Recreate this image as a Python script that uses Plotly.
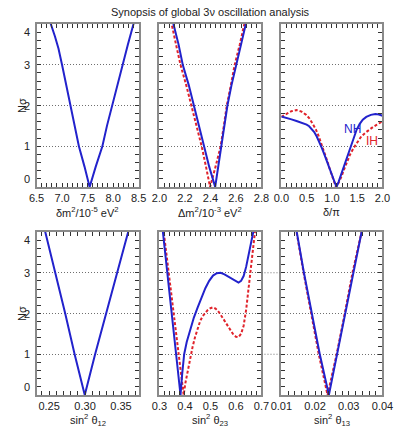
import plotly.graph_objects as go

# ---------------- data ----------------
# top-left: delta m^2 / 1e-5 eV^2
dm2_x = [6.74, 6.78, 6.86, 6.93, 7.00, 7.08, 7.16, 7.25, 7.33, 7.44, 7.54,
         7.66, 7.79, 7.88, 7.98, 8.08, 8.18, 8.29, 8.40, 8.44]
dm2_y = [4.2, 4.0, 3.7, 3.4, 3.0, 2.5, 2.0, 1.5, 1.0, 0.5, 0.0,
         0.5, 1.0, 1.5, 2.0, 2.5, 3.0, 3.5, 4.0, 4.2]

# top-middle: Delta m^2 / 1e-3 eV^2
Dm2_nh_x = [2.10, 2.11, 2.15, 2.183, 2.23, 2.27, 2.31, 2.348, 2.39, 2.437,
            2.46, 2.487, 2.51, 2.533, 2.565, 2.60, 2.64, 2.677, 2.685]
Dm2_nh_y = [4.2, 4.0, 3.5, 3.0, 2.5, 2.0, 1.5, 1.0, 0.5, 0.0,
            0.5, 1.0, 1.5, 2.0, 2.5, 3.0, 3.5, 4.0, 4.2]
Dm2_ih_x = [2.088, 2.096, 2.13, 2.165, 2.21, 2.252, 2.29, 2.331, 2.365, 2.397,
            2.44, 2.48, 2.505, 2.528, 2.56, 2.59, 2.63, 2.67, 2.68]
Dm2_ih_y = [4.2, 4.0, 3.5, 3.0, 2.5, 2.0, 1.5, 1.0, 0.5, 0.0,
            0.5, 1.0, 1.5, 2.0, 2.5, 3.0, 3.5, 4.0, 4.2]

# top-right: delta / pi
dcp_nh_x = [0.0, 0.1, 0.2, 0.3, 0.4, 0.5, 0.55, 0.6, 0.65, 0.7, 0.75, 0.8,
            0.85, 0.9, 0.95, 1.0, 1.05, 1.09, 1.13, 1.18, 1.24, 1.3, 1.36,
            1.42, 1.49, 1.55, 1.61, 1.68, 1.77, 1.86, 1.93, 2.0]
dcp_nh_y = [1.73, 1.70, 1.66, 1.62, 1.58, 1.53, 1.49, 1.43, 1.35, 1.24, 1.11, 0.96,
            0.80, 0.63, 0.46, 0.29, 0.12, 0.0, 0.12, 0.30, 0.51, 0.74, 0.98,
            1.20, 1.41, 1.55, 1.65, 1.72, 1.77, 1.79, 1.78, 1.75]
dcp_ih_x = [0.0, 0.1, 0.2, 0.3, 0.4, 0.49, 0.55, 0.61, 0.68, 0.74, 0.8, 0.86,
            0.91, 0.96, 1.0, 1.04, 1.08, 1.13, 1.18, 1.24, 1.3, 1.36, 1.43,
            1.5, 1.58, 1.66, 1.74, 1.82, 1.89, 2.0]
dcp_ih_y = [1.72, 1.80, 1.86, 1.89, 1.85, 1.77, 1.69, 1.57, 1.42, 1.24, 1.04, 0.84,
            0.63, 0.43, 0.27, 0.11, 0.0, 0.10, 0.23, 0.43, 0.63, 0.80, 0.96,
            1.10, 1.24, 1.33, 1.41, 1.48, 1.53, 1.61]

# bottom-left: sin^2 theta12
s12_x = [0.2433, 0.2447, 0.2584, 0.2724, 0.2855, 0.2996,
         0.314, 0.3295, 0.3447, 0.3601, 0.3615]
s12_y = [4.1, 4.0, 3.0, 2.0, 1.0, 0.0, 1.0, 2.0, 3.0, 4.0, 4.1]

# bottom-middle: sin^2 theta23
s23_nh_x = [0.312, 0.3137, 0.332, 0.348, 0.3654, 0.3827, 0.389, 0.397, 0.407,
            0.42, 0.435, 0.45, 0.465, 0.48, 0.495, 0.51, 0.525, 0.54, 0.555,
            0.57, 0.585, 0.60, 0.61, 0.62, 0.63, 0.64, 0.65, 0.66, 0.668, 0.671]
s23_nh_y = [4.1, 4.0, 3.0, 2.0, 1.0, 0.0, 0.5, 1.0, 1.3,
            1.6, 1.9, 2.15, 2.4, 2.62, 2.8, 2.93, 2.99, 3.0, 2.96,
            2.9, 2.84, 2.78, 2.76, 2.8, 2.92, 3.15, 3.45, 3.75, 4.0, 4.1]
s23_ih_x = [0.315, 0.317, 0.336, 0.356, 0.375, 0.395, 0.402, 0.41, 0.42, 0.43,
            0.44, 0.45, 0.46, 0.47, 0.48, 0.49, 0.50, 0.51, 0.52, 0.53, 0.54,
            0.55, 0.56, 0.57, 0.58, 0.59, 0.60, 0.61, 0.62, 0.63, 0.64, 0.65,
            0.66, 0.67, 0.675, 0.678]
s23_ih_y = [4.1, 4.0, 3.0, 2.0, 1.0, 0.0, 0.3, 0.57, 0.88, 1.18,
            1.43, 1.65, 1.82, 1.94, 2.03, 2.09, 2.13, 2.15, 2.12, 2.06, 1.97,
            1.87, 1.77, 1.66, 1.56, 1.48, 1.43, 1.42, 1.5, 1.7, 2.1, 2.65,
            3.25, 3.8, 4.05, 4.2]

# bottom-right: sin^2 theta13
s13_nh_x = [0.0142, 0.01457, 0.0167, 0.0191, 0.0214, 0.0241,
            0.0265, 0.0289, 0.0312, 0.0338, 0.0341]
s13_nh_y = [4.1, 4.0, 3.0, 2.0, 1.0, 0.0, 1.0, 2.0, 3.0, 4.0, 4.1]
s13_ih_x = [0.0141, 0.0145, 0.0166, 0.0189, 0.0211, 0.0237,
            0.0264, 0.0288, 0.0311, 0.0338, 0.0341]
s13_ih_y = [4.1, 4.0, 3.0, 2.0, 1.0, 0.0, 1.0, 2.0, 3.0, 4.0, 4.1]

y_ticks = [0, 1, 2, 3, 4]
y_tick_pos = [0.2, 1, 2, 3, 3.8]

x_titles = ["δm<sup>2</sup>/10<sup>-5</sup> eV<sup>2</sup>",
            "Δm<sup>2</sup>/10<sup>-3</sup> eV<sup>2</sup>",
            "δ/π",
            "sin<sup>2</sup> θ<sub>12</sub>",
            "sin<sup>2</sup> θ<sub>23</sub>",
            "sin<sup>2</sup> θ<sub>13</sub>"]

# ---------------- layout geometry ----------------
W, H = 402, 430
BLUE = "#2222cc"
RED = "#e0222a"
FONT = "Liberation Sans, Arial, Helvetica, sans-serif"
GRID = "#6f6f6f"
GRIDDASH = "1px,2px"

xpix = [(27, 135), (157, 265), (286, 393)]
ypix = [(24, 187), (232, 395)]

def xd(a, b):
    return [a / W, b / W]

def yd(a, b):
    return [1 - b / H, 1 - a / H]

panels = [
    dict(row=0, col=0, rng=[6.5, 8.5], dt=0.5, mdt=0.1, t0=6.5, fmt=".1f"),
    dict(row=0, col=1, rng=[2.0, 2.8], dt=0.2, mdt=0.04, t0=2.0, fmt=".1f"),
    dict(row=0, col=2, rng=[0.0, 2.0], dt=0.5, mdt=0.1, t0=0.0, fmt=".1f"),
    dict(row=1, col=0, rng=[0.2325, 0.3745], dt=0.05, mdt=0.01, t0=0.25, fmt=".2f"),
    dict(row=1, col=1, rng=[0.3, 0.7], dt=0.1, mdt=0.02, t0=0.3, fmt=".1f"),
    dict(row=1, col=2, rng=[0.01, 0.04], dt=0.01, mdt=0.002, t0=0.01, fmt=".2f"),
]

DASH = "3px,2px"
series = [
    [(dm2_x, dm2_y, BLUE, "solid")],
    [(Dm2_ih_x, Dm2_ih_y, RED, DASH), (Dm2_nh_x, Dm2_nh_y, BLUE, "solid")],
    [(dcp_ih_x, dcp_ih_y, RED, DASH), (dcp_nh_x, dcp_nh_y, BLUE, "solid")],
    [(s12_x, s12_y, BLUE, "solid")],
    [(s23_ih_x, s23_ih_y, RED, DASH), (s23_nh_x, s23_nh_y, BLUE, "solid")],
    [(s13_ih_x, s13_ih_y, RED, DASH), (s13_nh_x, s13_nh_y, BLUE, "solid")],
]

fig = go.Figure()
annotations = []
shapes = []

for i, p in enumerate(panels):
    n = i + 1
    xa = "x" if n == 1 else f"x{n}"
    ya = "y" if n == 1 else f"y{n}"
    for (xs, ys, col, dash) in series[i]:
        fig.add_trace(go.Scatter(x=xs, y=ys, mode="lines", xaxis=xa, yaxis=ya,
                                 line=dict(color=col, width=2, dash=dash),
                                 showlegend=False, hoverinfo="skip"))
    x0, x1 = xpix[p["col"]]
    y0, y1 = ypix[p["row"]]
    common = dict(ticks="inside", ticklen=4, tickwidth=1, tickcolor="#333",
                  showline=True, linecolor="#8a8a8a", linewidth=2,
                  mirror="allticks", zeroline=False)
    fig.layout[f"xaxis{n}" if n > 1 else "xaxis"] = dict(
        domain=xd(x0, x1), range=p["rng"], anchor=ya, tick0=p["t0"], dtick=p["dt"],
        tickformat=p["fmt"], showgrid=False,
        tickfont=dict(family=FONT, size=11, color="#222"),
        minor=dict(ticks="inside", ticklen=4, dtick=p["mdt"], tick0=p["t0"],
                   tickcolor="#333", showgrid=False),
        **common)
    fig.layout[f"yaxis{n}" if n > 1 else "yaxis"] = dict(
        domain=yd(y0, y1), range=[0, 4], anchor=xa, tick0=0, dtick=1,
        showticklabels=False, showgrid=True, griddash=GRIDDASH, gridcolor=GRID,
        gridwidth=1,
        minor=dict(ticks="inside", ticklen=4, dtick=0.2, tick0=0,
                   tickcolor="#333", showgrid=False),
        **common)
    # x-axis title
    annotations.append(dict(text=x_titles[i], xref="paper", yref="paper",
                            x=(x0 + x1) / 2 / W,
                            y=1 - (212 if p["row"] == 0 else 420) / H,
                            xanchor="center", yanchor="middle", showarrow=False,
                            font=dict(family=FONT, size=11, color="#222")))
    if p["col"] == 0:
        for t, pos in zip(y_ticks, y_tick_pos):
            annotations.append(dict(text=str(t), xref="paper", yref=ya, x=22 / W, y=pos,
                                    xanchor="right", yanchor="middle", showarrow=False,
                                    font=dict(family=FONT, size=11, color="#222")))
        annotations.append(dict(text="Nσ", xref="paper", yref="paper", x=11 / W,
                                y=1 - ((y0 + y1) / 2) / H, textangle=-90,
                                xanchor="center", yanchor="middle", showarrow=False,
                                font=dict(family=FONT, size=11, color="#222")))

# dotted gridlines continuing into the gap of the bottom row
for lvl in [1, 2, 3]:
    shapes.append(dict(type="line", xref="paper", yref="y5",
                       x0=265 / W, x1=286 / W, y0=lvl, y1=lvl,
                       line=dict(color=GRID, width=1, dash=GRIDDASH)))

annotations.append(dict(text="NH", xref="x3", yref="y3", x=1.4, y=1.43,
                        xanchor="center", yanchor="middle", showarrow=False,
                        font=dict(family=FONT, size=12, color=BLUE)))
annotations.append(dict(text="IH", xref="x3", yref="y3", x=1.8, y=1.12,
                        xanchor="center", yanchor="middle", showarrow=False,
                        font=dict(family=FONT, size=12, color=RED)))
annotations.append(dict(text="Synopsis of global 3ν oscillation analysis",
                        xref="paper", yref="paper", x=211 / W, y=1 - 12 / H,
                        xanchor="center", yanchor="middle", showarrow=False,
                        font=dict(family=FONT, size=11, color="#222")))

fig.update_layout(width=W, height=H, margin=dict(l=0, r=0, t=0, b=0),
                  paper_bgcolor="white", plot_bgcolor="white",
                  annotations=annotations, shapes=shapes)

fig.write_html("out.html", config={"displayModeBar": False})
